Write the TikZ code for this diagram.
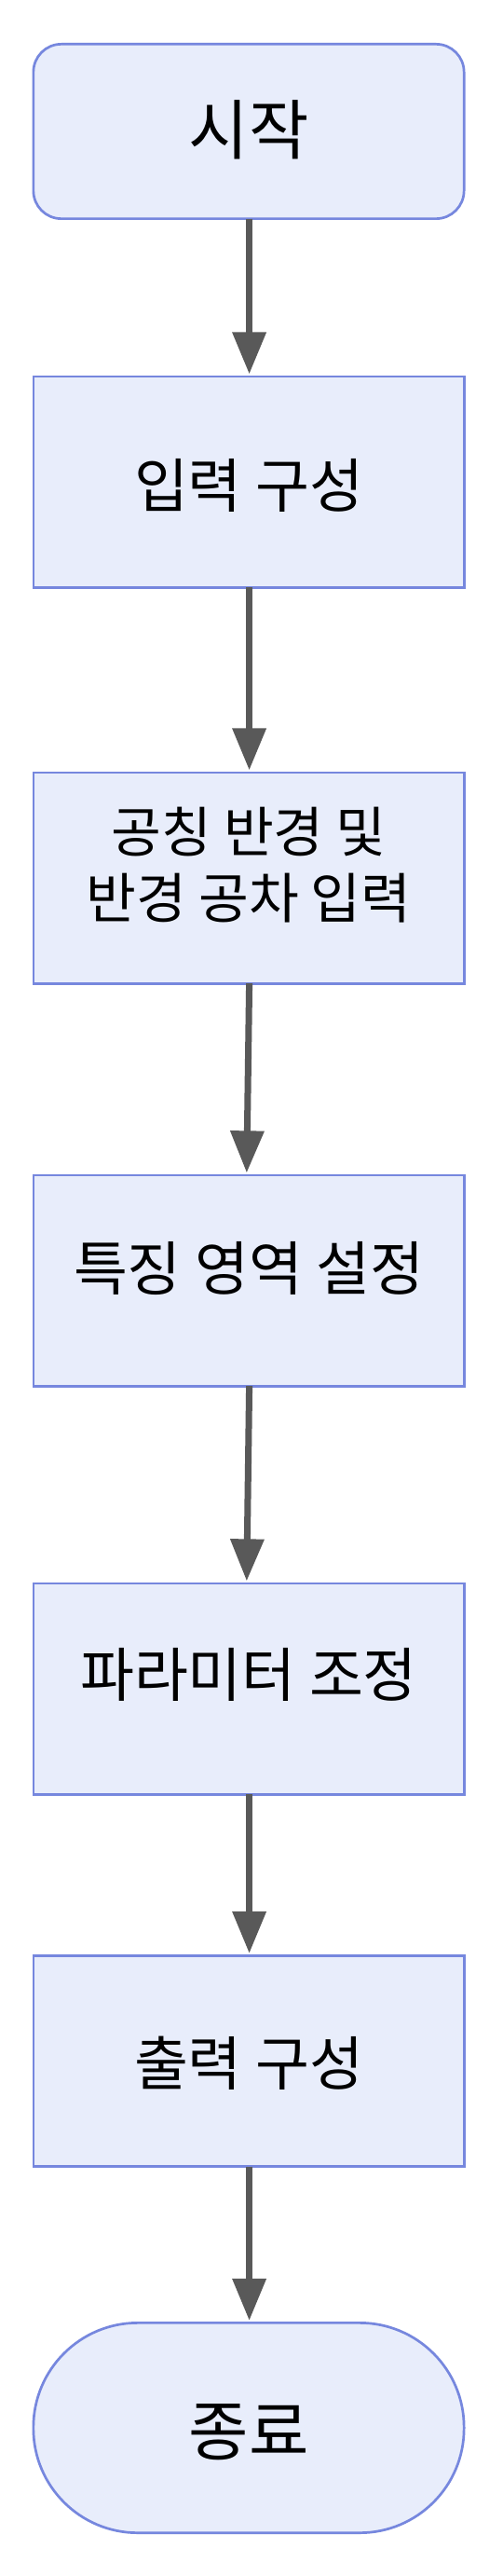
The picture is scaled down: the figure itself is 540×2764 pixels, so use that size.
\documentclass[tikz,border=0pt]{standalone}
\usepackage{fontspec}
\setmainfont{Noto Sans CJK KR}
\usetikzlibrary{arrows.meta,calc}
\definecolor{boxfill}{RGB}{232,237,251}
\definecolor{boxline}{RGB}{118,135,222}
\definecolor{arrowc}{RGB}{89,89,89}
\begin{document}
\begin{tikzpicture}[x=1pt,y=-1pt,
  box/.style={draw=boxline, fill=boxfill, line width=2.7pt, minimum width=462.3pt,
    minimum height=226.3pt, inner sep=0pt, outer sep=0pt},
  startbox/.style={box, rounded corners=30pt, minimum height=187.3pt},
  endbox/.style={box, rounded corners=112pt, minimum height=225.3pt},
  lbl/.style={font=\fontsize{63}{71.7}\selectfont, align=center, inner sep=0pt},
  smalllbl/.style={lbl, font=\fontsize{58.5}{71.7}\selectfont},
  biglbl/.style={lbl, font=\fontsize{70}{80}\selectfont},
  flow/.style={draw=arrowc, line width=7pt, -{Triangle[width=35pt,length=45pt]}, shorten >=2.5pt}]
\useasboundingbox (0,0) rectangle (540,2764);
\fill[white] (0,0) rectangle (540,2764);

\node[startbox] (s) at (267,141) {};
\node[box] (b2) at (267,517) {};
\node[box] (b3) at (267,942) {};
\node[box] (b4) at (267,1374) {};
\node[box] (b5) at (267,1812) {};
\node[box] (b6) at (267,2211.5) {};
\node[endbox] (e) at (267,2605) {};

\node[biglbl] (ts) at (267,139) {시작};
\node[lbl] (t2) at (267,521) {입력 구성};
\node[smalllbl] (t3) at (267,928) {공칭 반경 및\\반경 공차 입력};
\node[lbl] (t4) at (267,1361) {특징 영역 설정};
\node[lbl] (t5) at (267,1797) {파라미터 조정};
\node[lbl] (t6) at (267,2213.5) {출력 구성};
\node[biglbl] (te) at (267,2610) {종료};

\draw[flow] ([xshift=0.6pt]s.south) -- ([xshift=0.6pt]b2.north);
\draw[flow] ([xshift=0.6pt]b2.south) -- ([xshift=0.6pt]b3.north);
\draw[flow] ([xshift=0.6pt]b3.south) -- ([xshift=-2.2pt]b4.north);
\draw[flow] ([xshift=0.6pt]b4.south) -- ([xshift=-2.2pt]b5.north);
\draw[flow] ([xshift=0.6pt]b5.south) -- ([xshift=0.6pt]b6.north);
\draw[flow] ([xshift=0.6pt]b6.south) -- ([xshift=0.6pt]e.north);
\end{tikzpicture}
\end{document}
